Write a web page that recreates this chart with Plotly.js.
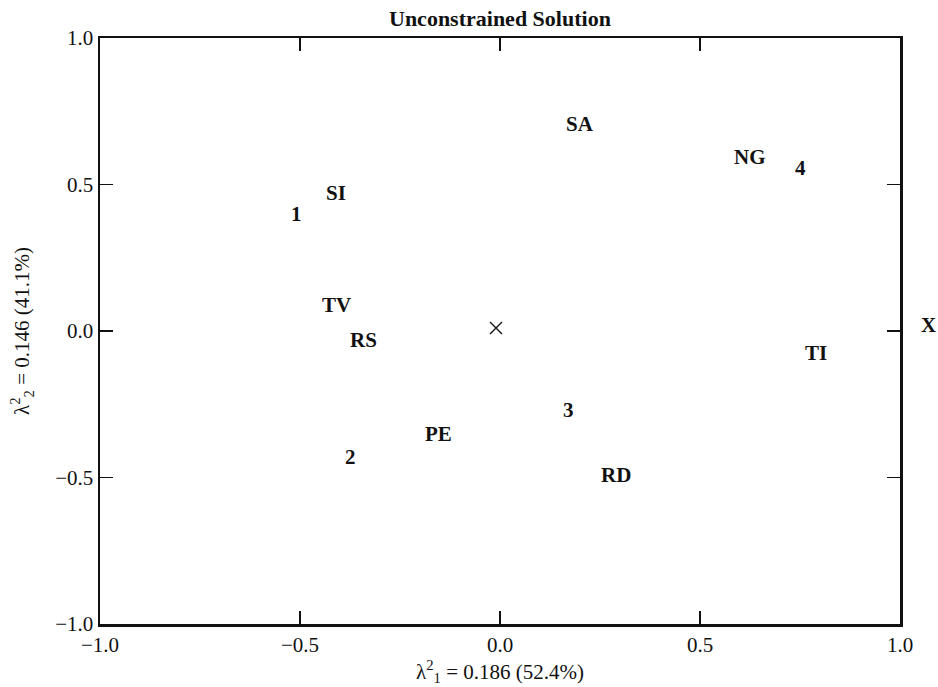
<!DOCTYPE html>
<html>
<head>
<meta charset="utf-8">
<script src="https://cdn.plot.ly/plotly-3.0.1.min.js"></script>
<style>html,body{margin:0;padding:0;background:#fff;}#chart{width:938px;height:687px;}</style>
</head>
<body>
<div id="chart"></div>
<script>
// Labels and positions
const labels = ["SI", "1", "TV", "RS", "SA", "NG", "4", "X", "TI", "3", "RD", "PE", "2"];
const xVals  = [-0.41, -0.51, -0.41, -0.34, 0.20, 0.625, 0.75, 1.07, 0.79, 0.17, 0.29, -0.155, -0.375];
const yVals  = [0.47, 0.40, 0.09, -0.03, 0.705, 0.595, 0.555, 0.02, -0.075, -0.27, -0.49, -0.35, -0.43];
const originX = [-0.01];
const originY = [0.01];
const tickVals = [-1.0, -0.5, 0.0, 0.5, 1.0];
const axisRange = [-1, 1];

const serif = "Liberation Serif, Times New Roman, serif";

const traces = [
  {
    x: originX, y: originY, mode: "markers", type: "scatter",
    marker: {symbol: "x-thin", size: 12, line: {width: 1.4, color: "#111"}},
    hoverinfo: "none", showlegend: false
  }
];

// map data values to axis-domain fractions so labels beyond the frame (X) still show
const toDom = v => (v - axisRange[0]) / (axisRange[1] - axisRange[0]);
const annotations = labels.map((t, i) => ({
  x: toDom(xVals[i]), y: toDom(yVals[i]), xref: "x domain", yref: "y domain",
  text: "<b>" + t + "</b>", showarrow: false,
  xanchor: "center", yanchor: "middle",
  font: {family: serif, size: 21, color: "#111"}
}));

const axisCommon = {
  range: axisRange, tickvals: tickVals, tickformat: ".1f",
  ticks: "inside", ticklen: 13, tickwidth: 1.5, tickcolor: "#111",
  showline: true, linewidth: 2.5, linecolor: "#111", mirror: "ticks",
  showgrid: false, zeroline: false,
  tickfont: {family: serif, size: 21, color: "#111"}
};

const layout = {
  width: 938, height: 687,
  margin: {l: 100, r: 38, t: 38, b: 63},
  paper_bgcolor: "#fff", plot_bgcolor: "#fff",
  title: {text: "<b>Unconstrained Solution</b>", x: 0.533, xanchor: "center", y: 0.973, yanchor: "middle",
          font: {family: serif, size: 22, color: "#111"}},
  xaxis: Object.assign({}, axisCommon, {
    title: {text: "λ<sup>2</sup><sub>1</sub> = 0.186 (52.4%)", standoff: 4, font: {family: serif, size: 21, color: "#111"}}
  }),
  yaxis: Object.assign({}, axisCommon, {
    title: {text: "λ<sup>2</sup><sub>2</sub> = 0.146 (41.1%)", standoff: 20, font: {family: serif, size: 21, color: "#111"}}
  }),
  annotations: annotations
};

Plotly.newPlot("chart", traces, layout, {staticPlot: true, displayModeBar: false});
</script>
</body>
</html>
